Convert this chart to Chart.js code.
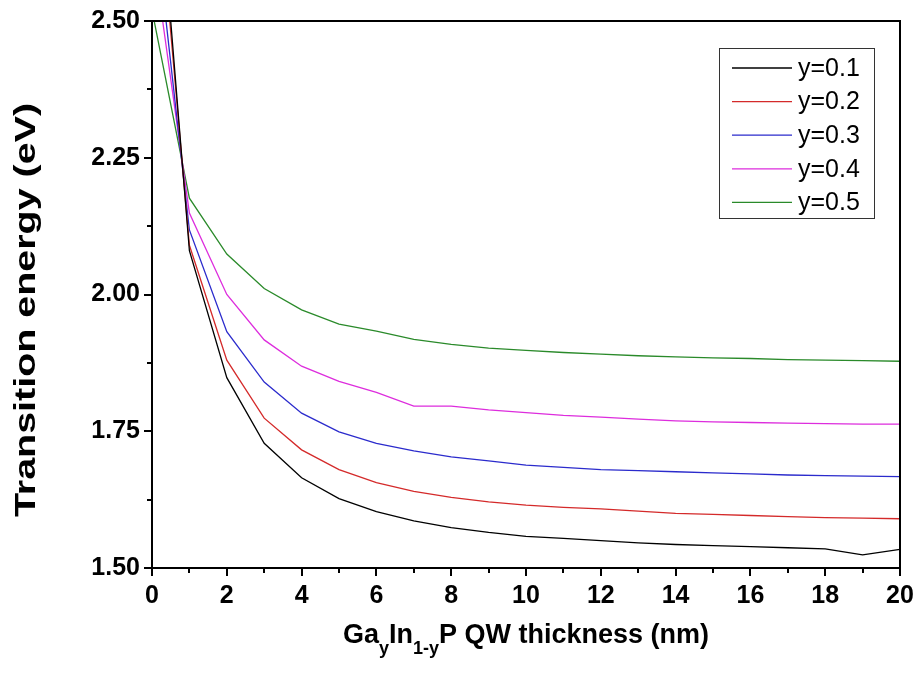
<!DOCTYPE html>
<html>
<head>
<meta charset="utf-8">
<script src="https://cdn.jsdelivr.net/npm/chart.js@4.4.1/dist/chart.umd.min.js"></script>
<style>
  html, body { margin: 0; padding: 0; background: #fff; }
  #wrap { width: 919px; height: 677px; }
</style>
</head>
<body>
<div id="wrap"><canvas id="energyChart" width="919" height="677"></canvas></div>
<script>
// QW thickness (nm)
const thickness = [0, 1, 2, 3, 4, 5, 6, 7, 8, 9, 10, 11, 12, 13, 14, 15, 16, 17, 18, 19, 20];

// transition energy (eV) for each Ga fraction y
const energyY01 = [2.92, 2.08, 1.848, 1.728, 1.665, 1.627, 1.603, 1.586, 1.574, 1.565, 1.558, 1.554, 1.550, 1.546, 1.543, 1.541, 1.539, 1.537, 1.535, 1.524, 1.534];
const energyY02 = [2.87, 2.09, 1.880, 1.774, 1.716, 1.680, 1.656, 1.640, 1.629, 1.621, 1.615, 1.611, 1.608, 1.604, 1.600, 1.598, 1.596, 1.594, 1.592, 1.591, 1.590];
const energyY03 = [2.73, 2.118, 1.932, 1.840, 1.783, 1.749, 1.728, 1.714, 1.703, 1.696, 1.688, 1.684, 1.680, 1.678, 1.676, 1.674, 1.672, 1.670, 1.669, 1.668, 1.667];
const energyY04 = [2.64, 2.149, 2.000, 1.917, 1.869, 1.841, 1.821, 1.796, 1.796, 1.789, 1.784, 1.779, 1.776, 1.772, 1.769, 1.767, 1.766, 1.765, 1.764, 1.763, 1.763];
const energyY05 = [2.52, 2.176, 2.074, 2.011, 1.972, 1.946, 1.933, 1.918, 1.909, 1.902, 1.898, 1.894, 1.891, 1.888, 1.886, 1.884, 1.883, 1.881, 1.880, 1.879, 1.878];

const seriesLabels = ['y=0.1', 'y=0.2', 'y=0.3', 'y=0.4', 'y=0.5'];
const seriesColors = ['#000000', '#d42a2a', '#2b2bcc', '#dd2ddd', '#2a8a2a'];

const xMinorTicks = [1, 3, 5, 7, 9, 11, 13, 15, 17, 19];
const yMinorTicks = [1.625, 1.875, 2.125, 2.375];

const FONT = "'Liberation Sans', Arial, sans-serif";

const toPoints = (values) => values.map((v, i) => ({ x: thickness[i], y: v }));

const allSeries = [energyY01, energyY02, energyY03, energyY04, energyY05];

const datasets = allSeries.map((values, i) => ({
    label: seriesLabels[i],
    data: toPoints(values),
    borderColor: seriesColors[i],
    backgroundColor: seriesColors[i],
    borderWidth: 1.3,
    pointRadius: 0,
    showLine: true,
    tension: 0
}));

// frame, minor ticks, legend box and axis titles
const decorPlugin = {
    id: 'decor',
    afterDraw(chart) {
        const { ctx, chartArea: a, scales: { x, y } } = chart;
        ctx.save();
        ctx.strokeStyle = '#000';
        ctx.lineWidth = 2;
        ctx.strokeRect(a.left, a.top, a.right - a.left, a.bottom - a.top);

        ctx.beginPath();
        xMinorTicks.forEach(v => {
            const px = Math.round(x.getPixelForValue(v));
            ctx.moveTo(px, a.bottom);
            ctx.lineTo(px, a.bottom + 5);
        });
        yMinorTicks.forEach(v => {
            const py = Math.round(y.getPixelForValue(v));
            ctx.moveTo(a.left, py);
            ctx.lineTo(a.left - 5, py);
        });
        ctx.stroke();

        // legend
        const box = { left: 719, top: 48, right: 874, bottom: 218 };
        ctx.lineWidth = 1;
        ctx.strokeStyle = '#333';
        ctx.strokeRect(box.left + 0.5, box.top + 0.5, box.right - box.left, box.bottom - box.top);
        ctx.font = '25px ' + FONT;
        ctx.textBaseline = 'middle';
        ctx.textAlign = 'left';
        chart.data.datasets.forEach((ds, i) => {
            const rowY = 68 + i * 33.6;
            ctx.strokeStyle = ds.borderColor;
            ctx.lineWidth = 1.3;
            ctx.beginPath();
            ctx.moveTo(732, rowY);
            ctx.lineTo(792, rowY);
            ctx.stroke();
            ctx.fillStyle = '#000';
            ctx.fillText(ds.label, 798, rowY + 1);
        });

        // y axis title (stretched along its length like the original)
        ctx.fillStyle = '#000';
        ctx.save();
        ctx.translate(27, 310);
        ctx.rotate(-Math.PI / 2);
        ctx.scale(1.36, 1);
        ctx.font = 'bold 29px ' + FONT;
        ctx.textAlign = 'center';
        ctx.textBaseline = 'middle';
        ctx.fillText('Transition energy (eV)', 0, 0);
        ctx.restore();

        // x axis title with subscripts
        const main = 'bold 27px ' + FONT;
        const sub = 'bold 18px ' + FONT;
        const parts = [
            ['Ga', main, 0], ['y', sub, 11], ['In', main, 0], ['1-y', sub, 11], ['P QW thickness (nm)', main, 0]
        ];
        let total = 0;
        parts.forEach(p => { ctx.font = p[1]; total += ctx.measureText(p[0]).width; });
        let cx = (a.left + a.right) / 2 - total / 2;
        ctx.textAlign = 'left';
        ctx.textBaseline = 'alphabetic';
        parts.forEach(p => {
            ctx.font = p[1];
            ctx.fillText(p[0], cx, 643 + p[2]);
            cx += ctx.measureText(p[0]).width;
        });
        ctx.restore();
    }
};

new Chart(document.getElementById('energyChart'), {
    type: 'scatter',
    data: { datasets: datasets },
    options: {
        responsive: false,
        devicePixelRatio: 1,
        animation: false,
        layout: { padding: { left: 0, right: 19, top: 21, bottom: 0 } },
        plugins: {
            legend: { display: false },
            tooltip: { enabled: false }
        },
        scales: {
            x: {
                type: 'linear',
                min: 0,
                max: 20,
                afterFit: (scale) => { scale.height = 109; },
                ticks: {
                    stepSize: 2,
                    color: '#000',
                    padding: 5,
                    font: { family: FONT, size: 25, weight: 'bold' },
                    maxRotation: 0
                },
                grid: { drawOnChartArea: false, color: '#000', lineWidth: 2, tickLength: 8 },
                border: { display: true, color: '#000', width: 2 }
            },
            y: {
                type: 'linear',
                min: 1.5,
                max: 2.5,
                afterFit: (scale) => { scale.width = 152; },
                ticks: {
                    stepSize: 0.25,
                    color: '#000',
                    padding: 4,
                    font: { family: FONT, size: 25, weight: 'bold' },
                    callback: (v) => v.toFixed(2)
                },
                grid: { drawOnChartArea: false, color: '#000', lineWidth: 2, tickLength: 8 },
                border: { display: true, color: '#000', width: 2 }
            }
        }
    },
    plugins: [decorPlugin]
});
</script>
</body>
</html>
